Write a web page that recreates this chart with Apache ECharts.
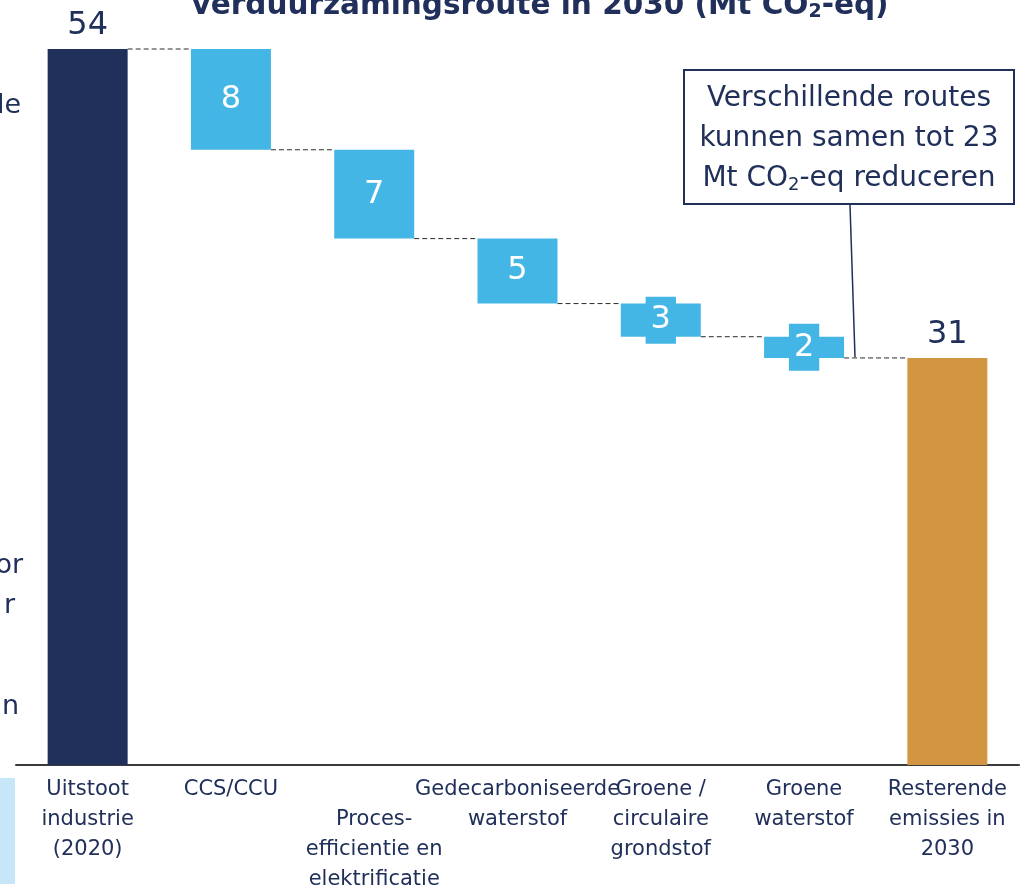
<!DOCTYPE html>
<html>
<head>
<meta charset="utf-8">
<script src="https://cdn.jsdelivr.net/npm/echarts@6/dist/echarts.min.js"></script>
<style>
  html, body { margin: 0; padding: 0; background: #fff; }
  #chart { width: 1027px; height: 889px; }
</style>
</head>
<body>
<div id="chart"></div>
<script>
// data
var categories = [
  'Uitstoot\nindustrie\n(2020)',
  'CCS/CCU',
  '\nProces-\nefficientie en\nelektrificatie',
  'Gedecarboniseerde\nwaterstof',
  'Groene /\ncirculaire\ngrondstof',
  'Groene\nwaterstof',
  'Resterende\nemissies in\n2030'
];
var startValue = 54;
var reductions = [7.6, 6.7, 4.9, 2.5, 1.6];   // CCS .. groene waterstof
var navy = '#21305a', blue = '#44b6e6', orange = '#d29642';
var font = 'DejaVu Sans';

// running totals for the waterfall
var run = [startValue];
reductions.forEach(function (r, i) { run.push(run[i] - r); });
var endValue = run[run.length - 1];

var topLabel = { position: 'top', color: navy, backgroundColor: 'transparent', padding: 0 };
var baseData = [0], valueData = [];
valueData.push({ value: startValue, itemStyle: { color: navy }, label: topLabel });
reductions.forEach(function (r, i) {
  baseData.push(run[i + 1]);
  valueData.push({ value: r, itemStyle: { color: blue } });
});
baseData.push(0);
valueData.push({ value: endValue, itemStyle: { color: orange }, label: topLabel });

// connector levels between neighbouring bars
var connectors = run.map(function (v, i) { return [i, v]; });

var chart = echarts.init(document.getElementById('chart'));

var option = {
  animation: false,
  grid: { left: 16, right: 8, top: 49, bottom: 124, outerBoundsMode: 'none', containLabel: false },
  xAxis: {
    type: 'category',
    data: categories,
    axisLine: { lineStyle: { color: '#3a3a3a', width: 2 } },
    axisTick: { show: false },
    axisLabel: {
      interval: 0,
      hideOverlap: false,
      color: navy,
      fontFamily: font,
      fontSize: 21,
      lineHeight: 30,
      margin: 10
    }
  },
  yAxis: { type: 'value', min: 0, max: 54, show: false },
  series: [
    {
      type: 'bar',
      stack: 'total',
      barWidth: 80,
      silent: true,
      itemStyle: { color: 'transparent' },
      data: baseData
    },
    {
      type: 'bar',
      stack: 'total',
      barWidth: 80,
      label: {
        show: true,
        position: 'inside',
        color: '#fff',
        fontFamily: font,
        fontSize: 32,
        lineHeight: 37,
        padding: [6, 5, 4, 5],
        backgroundColor: blue,
        distance: 5,
        formatter: function (p) { return Math.round(p.value); }
      },
      data: valueData
    },
    {
      type: 'custom',
      silent: true,
      z: 1,
      data: connectors,
      renderItem: function (params, api) {
        var i = api.value(0), lvl = api.value(1);
        if (i >= categories.length - 1) return;
        var p1 = api.coord([i, lvl]);
        var p2 = api.coord([i + 1, lvl]);
        return {
          type: 'line',
          shape: { x1: p1[0] + 40, y1: p1[1], x2: p2[0] - 40, y2: p2[1] },
          style: { stroke: '#2a2a2a', lineWidth: 1, lineDash: [5, 3] }
        };
      }
    }
  ],
  graphic: [
    {
      type: 'text',
      style: {
        text: 'verduurzamingsroute in 2030 (Mt CO{sub|2}-eq)',
        x: 540, y: 6,
        align: 'center',
        verticalAlign: 'middle',
        fill: navy,
        font: 'bold 29.5px "DejaVu Sans"',
        rich: {
          sub: { fontSize: 19, fontWeight: 'bold', fontFamily: font, fill: navy, padding: [12, 0, 0, 0] }
        }
      }
    },
    // clipped text on the left edge
    { type: 'text', style: { text: 'le', x: 21, y: 106, align: 'right', verticalAlign: 'middle', fill: navy, font: '27px "DejaVu Sans"' } },
    { type: 'text', style: { text: 'or', x: 23, y: 566, align: 'right', verticalAlign: 'middle', fill: navy, font: '27px "DejaVu Sans"' } },
    { type: 'text', style: { text: 'r', x: 15, y: 606, align: 'right', verticalAlign: 'middle', fill: navy, font: '27px "DejaVu Sans"' } },
    { type: 'text', style: { text: 'n', x: 19, y: 707, align: 'right', verticalAlign: 'middle', fill: navy, font: '27px "DejaVu Sans"' } },
    { type: 'rect', shape: { x: 0, y: 778, width: 15, height: 106 }, style: { fill: '#c7e7f8' } },
    // callout
    { type: 'line', shape: { x1: 850, y1: 205, x2: 855, y2: 357 }, style: { stroke: navy, lineWidth: 1.5 } },
    {
      type: 'rect',
      shape: { x: 684, y: 70, width: 330, height: 134 },
      style: { fill: '#fff', stroke: navy, lineWidth: 2 }
    },
    {
      type: 'text',
      style: {
        text: 'Verschillende routes\nkunnen samen tot 23\nMt CO{sub|2}-eq reduceren',
        x: 849, y: 139,
        align: 'center',
        verticalAlign: 'middle',
        fill: navy,
        font: '28px "DejaVu Sans"',
        lineHeight: 40,
        rich: {
          sub: { fontSize: 18, fontFamily: font, fill: navy, padding: [12, 0, 0, 0] }
        }
      }
    }
  ]
};
chart.setOption(option);
</script>
</body>
</html>
